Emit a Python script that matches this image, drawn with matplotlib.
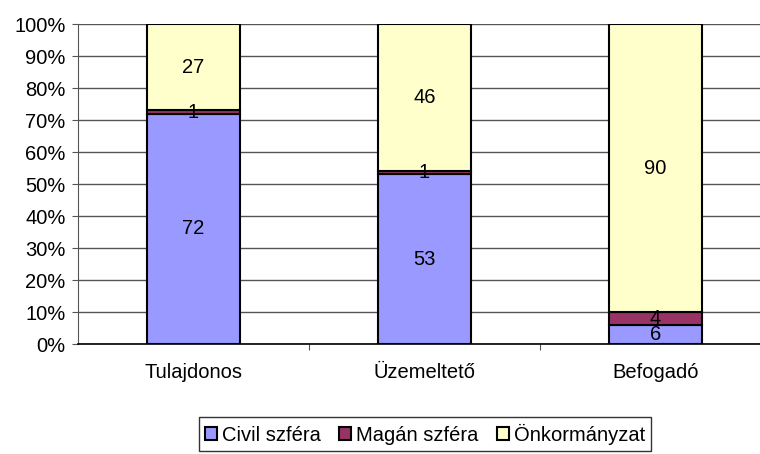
import matplotlib
matplotlib.use("Agg")
import matplotlib.pyplot as plt
import numpy as np

# data
categories = ["Tulajdonos", "Üzemeltető", "Befogadó"]
civil = [72, 53, 6]
magan = [1, 1, 4]
onkorm = [27, 46, 90]
series_names = ["Civil szféra", "Magán szféra", "Önkormányzat"]
colors = ["#9999FF", "#993366", "#FFFFCC"]

plt.rcParams['font.family'] = ['Liberation Sans', 'DejaVu Sans']
fs = 14.5

fig = plt.figure(figsize=(7.6, 4.54), dpi=100)
ax = fig.add_axes([78/760, 1-344/454, 693/760, 320/454])

x = np.arange(len(categories))
w = 0.4
bottom = np.zeros(len(categories))
handles = []
for vals, name, col in zip([civil, magan, onkorm], series_names, colors):
    vals = np.array(vals, dtype=float)
    h = ax.bar(x, vals, w, bottom=bottom, color=col, edgecolor='black',
               linewidth=1.5, label=name, zorder=3)
    handles.append(h)
    for xi, b, v in zip(x, bottom, vals):
        ax.text(xi, b + v/2, f"{int(v)}", ha='center', va='center',
                fontsize=fs, zorder=4)
    bottom += vals

ax.set_xlim(-0.5, 2.5)
ax.set_ylim(0, 100)
ax.set_yticks(np.arange(0, 101, 10))
ax.set_yticklabels([f"{v}%" for v in range(0, 101, 10)], fontsize=fs)
ax.yaxis.grid(True, color='#555555', linewidth=1, zorder=0)

# boundary ticks on x axis, labels at category centres
ax.set_xticks([0.5, 1.5])
ax.set_xticklabels([])
ax.set_xticks(x, minor=True)
ax.set_xticklabels(categories, minor=True, fontsize=fs)
ax.tick_params(axis='x', which='major', direction='out', length=4, color='#555555')
ax.tick_params(axis='x', which='minor', length=0, pad=14)
ax.tick_params(axis='y', direction='out', length=4, color='#555555', pad=5)

for s in ['top', 'right']:
    ax.spines[s].set_visible(False)
ax.spines['left'].set_color('#555555')
ax.spines['bottom'].set_color('black')
ax.spines['bottom'].set_linewidth(1.2)

leg = fig.legend(handles=handles, loc='center', bbox_to_anchor=(425/760, 1-434/454),
                 ncol=3, frameon=True, fancybox=False, edgecolor='black',
                 fontsize=fs, handlelength=0.6, handleheight=0.6,
                 handletextpad=0.25, columnspacing=0.9, borderpad=0.3)
leg.get_frame().set_linewidth(1)

fig.savefig("out.png", dpi=100)
